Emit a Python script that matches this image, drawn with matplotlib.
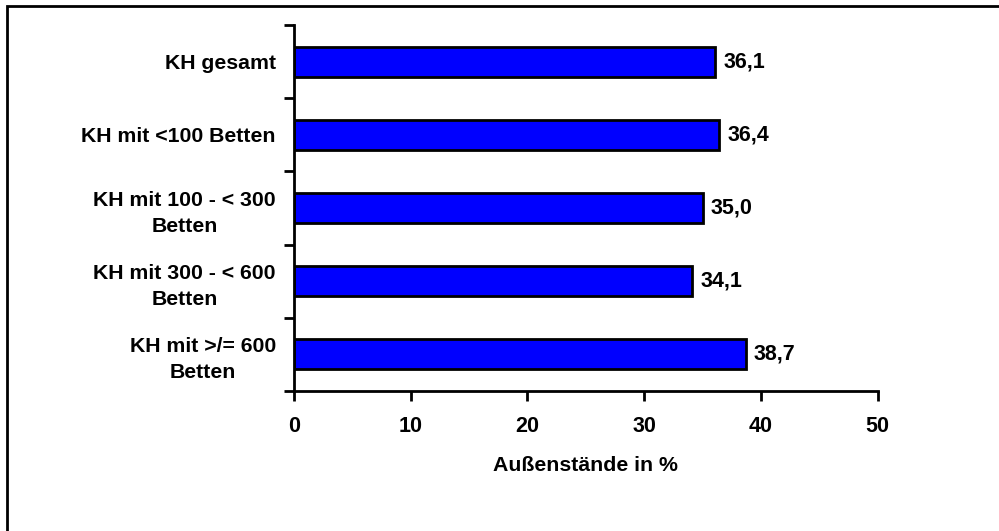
import matplotlib.pyplot as plt
from matplotlib.patches import Rectangle
import numpy as np

plt.rcParams['font.family'] = ['Liberation Sans', 'DejaVu Sans']
plt.rcParams['font.weight'] = 'bold'

categories = ["KH gesamt", "KH mit <100 Betten", "KH mit 100 - < 300\nBetten",
              "KH mit 300 - < 600\nBetten", "KH mit >/= 600\nBetten"]
values = [36.1, 36.4, 35.0, 34.1, 38.7]
value_labels = ["36,1", "36,4", "35,0", "34,1", "38,7"]
xticks = [0, 10, 20, 30, 40, 50]

fig = plt.figure(figsize=(9.99, 5.31), dpi=100)
ax = fig.add_axes([0.2943, 0.2637, 0.5843, 0.6892])

# outer frame (only left/top edges visible in the original)
fig.patches.append(Rectangle((7 / 999, -0.1), 1.2, 1 - 6 / 531 + 0.1,
                             transform=fig.transFigure, fill=False,
                             edgecolor='black', linewidth=2, zorder=10))

pos = np.arange(len(categories))
ax.barh(pos, values, height=0.41, color='#0000ff', edgecolor='black', linewidth=2)

for p, v, lab in zip(pos, values, value_labels):
    ax.text(v + 0.7, p, lab, va='center', ha='left', fontsize=15.5, fontweight='bold')

ax.set_xlim(0, 50)
ax.set_ylim(len(categories) - 0.5, -0.5)
ax.set_xticks(xticks)
ax.set_xticklabels([str(t) for t in xticks], fontsize=15.5, fontweight='bold')

# ticks at category boundaries, labels at centers
ax.set_yticks(np.arange(-0.5, len(categories), 1.0))
ax.set_yticklabels([])
ax.set_yticks(pos, minor=True)
ax.set_yticklabels(categories, minor=True, fontsize=15.3, fontweight='bold',
                   multialignment='center', linespacing=1.45)
ax.tick_params(axis='y', which='minor', length=0, pad=13)
ax.tick_params(axis='y', which='major', length=7, width=2, direction='out')
ax.tick_params(axis='x', length=7, width=2, direction='out', pad=11)

for s in ['top', 'right']:
    ax.spines[s].set_visible(False)
for s in ['left', 'bottom']:
    ax.spines[s].set_linewidth(2)

ax.set_xlabel("Außenstände in %", fontsize=15.3, fontweight='bold', labelpad=14)

fig.savefig("out.png", dpi=100)
